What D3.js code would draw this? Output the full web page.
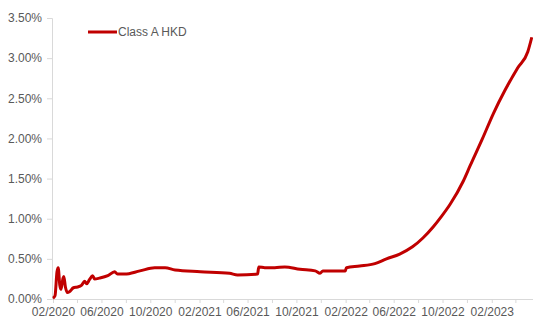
<!DOCTYPE html>
<html>
<head>
<meta charset="utf-8">
<script src="https://cdn.jsdelivr.net/npm/d3@7"></script>
<style>
  body { margin: 0; background: #fff; }
  text { font-family: "Liberation Sans", Arial, sans-serif; fill: #595959; }
</style>
</head>
<body>
<div id="chart"></div>
<script>
// series: dates and yield values (%)
const dates = [
    "2020-02-01", "2020-02-06", "2020-02-11", "2020-02-14", "2020-02-18", "2020-02-21",
    "2020-02-26", "2020-02-28", "2020-03-03", "2020-03-08", "2020-03-13", "2020-03-23",
    "2020-04-02", "2020-04-12", "2020-04-20", "2020-04-25", "2020-05-02", "2020-05-10",
    "2020-05-15", "2020-05-27", "2020-06-17", "2020-07-04", "2020-07-11", "2020-07-29",
    "2020-09-05", "2020-10-12", "2020-11-07", "2020-12-02", "2021-02-03", "2021-04-17",
    "2021-05-07", "2021-06-26", "2021-06-29", "2021-07-14", "2021-08-08", "2021-09-02",
    "2021-10-10", "2021-11-17", "2021-11-29", "2021-12-06", "2022-01-18", "2022-01-31",
    "2022-02-03", "2022-03-08", "2022-04-15", "2022-05-14", "2022-06-16", "2022-07-18",
    "2022-08-13", "2022-09-08", "2022-09-27", "2022-10-20", "2022-11-22", "2022-12-09",
    "2023-01-09", "2023-02-05", "2023-03-05", "2023-04-07", "2023-05-02", "2023-05-12"
];
const values = [
    0.01, 0.04, 0.34, 0.39, 0.17, 0.12,
    0.26, 0.28, 0.15, 0.08, 0.09, 0.14,
    0.15, 0.17, 0.22, 0.19, 0.24, 0.29,
    0.25, 0.26, 0.29, 0.34, 0.31, 0.31,
    0.35, 0.39, 0.39, 0.36, 0.34, 0.32,
    0.30, 0.31, 0.40, 0.39, 0.39, 0.40,
    0.37, 0.35, 0.32, 0.35, 0.35, 0.35,
    0.39, 0.41, 0.44, 0.50, 0.56, 0.65,
    0.76, 0.90, 1.02, 1.18, 1.47, 1.66,
    2.00, 2.31, 2.59, 2.88, 3.08, 3.26
];
const yTicks = [0, 0.5, 1, 1.5, 2, 2.5, 3, 3.5];
const seriesName = "Class A HKD";

const width = 533, height = 318;
const parse = d3.timeParse("%Y-%m-%d");
const data = dates.map((d, i) => ({ date: parse(d), value: values[i] }));

const svg = d3.select("#chart")
    .append("svg")
    .attr("width", width)
    .attr("height", height);

const start = parse("2020-02-01");
const x = d3.scaleTime()
    .domain([start, parse("2023-05-15")])
    .range([53, 533]);

const y = d3.scaleLinear()
    .domain([0, 3.5])
    .range([299, 18]);

// y axis
let yAxis = svg.append("g")
    .attr("transform", "translate(52,0)")
    .call(d3.axisLeft(y).tickValues(yTicks).tickSize(5).tickPadding(5)
        .tickFormat(d => d.toFixed(2) + "%"));
yAxis.select(".domain").attr("stroke", "#d9d9d9");
yAxis.selectAll(".tick line").attr("stroke", "#d9d9d9");
yAxis.selectAll("text").style("font-size", "12px").attr("fill", "#595959");

// x axis: ticks every 2 months from 02/2020, labels every 4
const xTicks = d3.range(0, 40, 2).map(m => d3.timeMonth.offset(start, m));
let xAxis = svg.append("g")
    .attr("transform", "translate(0,299)")
    .call(d3.axisBottom(x).tickValues(xTicks).tickSize(4).tickPadding(4)
        .tickFormat((d, i) => i % 2 === 0 ? d3.timeFormat("%m/%Y")(d) : ""));
xAxis.select(".domain").attr("stroke", "#d9d9d9");
xAxis.selectAll(".tick line").attr("stroke", "#d9d9d9");
xAxis.selectAll("text").style("font-size", "12px").attr("fill", "#595959");

// line
const line = d3.line()
    .curve(d3.curveMonotoneX)
    .x(d => x(d.date))
    .y(d => y(d.value));

svg.append("path")
    .datum(data)
    .attr("fill", "none")
    .attr("stroke", "#c00000")
    .attr("stroke-width", 3)
    .attr("stroke-linejoin", "round")
    .attr("d", line);

// legend
let legend = svg.append("g").attr("transform", "translate(88,32)");
legend.append("line")
    .attr("x1", 0).attr("x2", 29)
    .attr("stroke", "#c00000")
    .attr("stroke-width", 3);
legend.append("text")
    .attr("x", 30).attr("y", 4)
    .style("font-size", "12px")
    .text(seriesName);
</script>
</body>
</html>
